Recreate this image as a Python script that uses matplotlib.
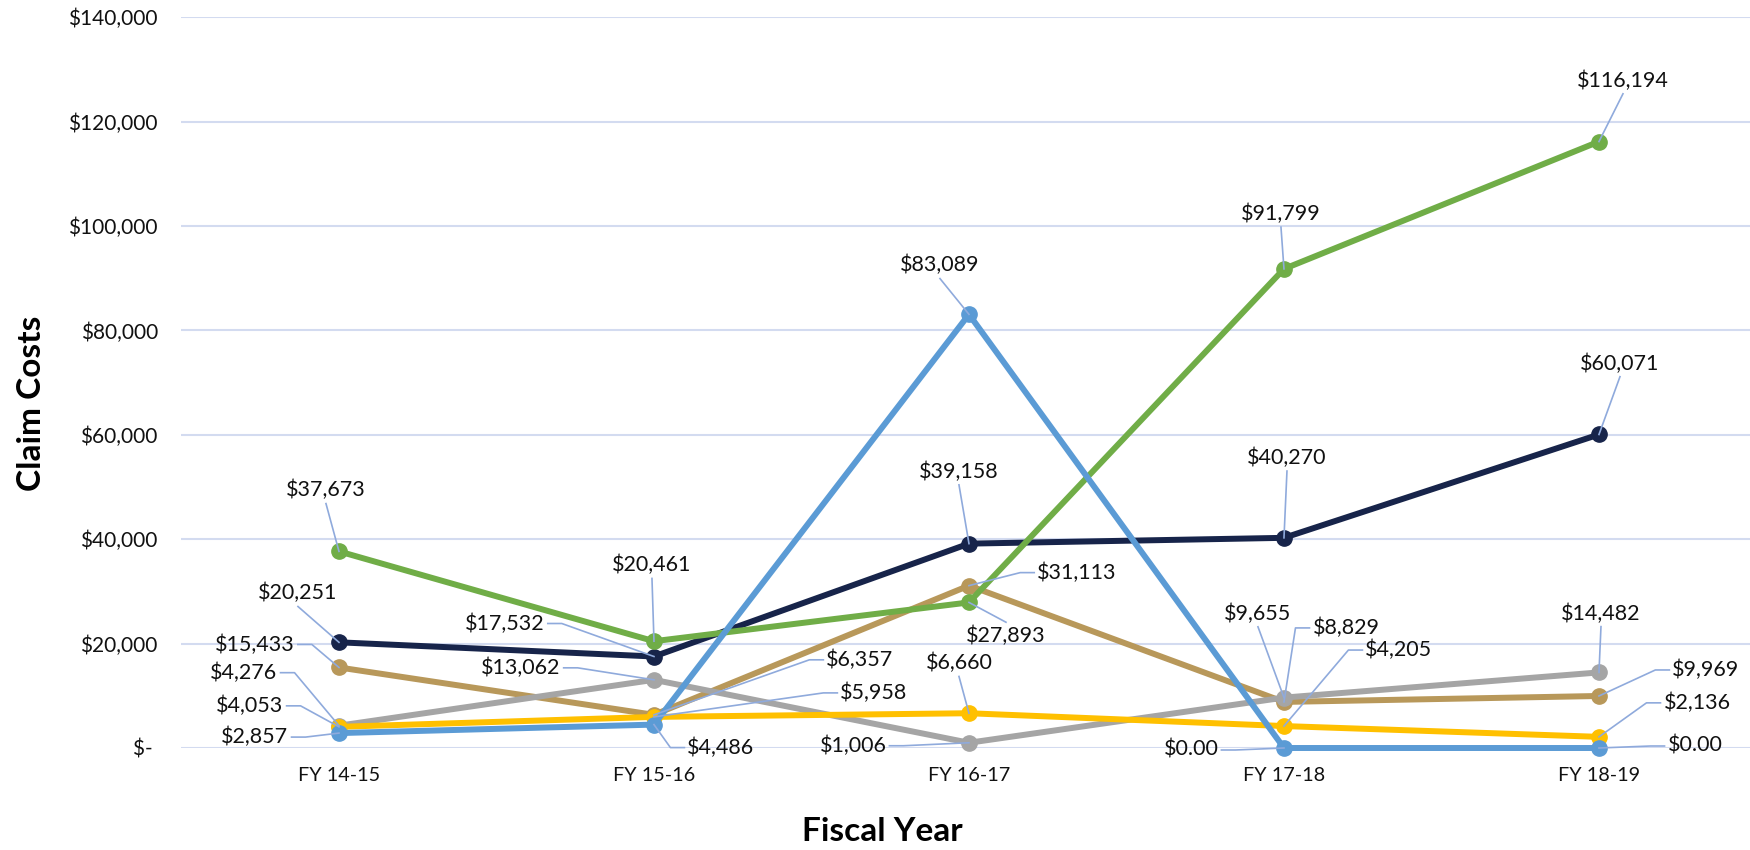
import matplotlib
matplotlib.use('Agg')
import matplotlib.pyplot as plt
from matplotlib.lines import Line2D
from matplotlib.transforms import IdentityTransform
from matplotlib.ticker import FuncFormatter

plt.rcParams['font.family'] = ['Lato', 'DejaVu Sans']

fiscal_years = ['FY 14-15', 'FY 15-16', 'FY 16-17', 'FY 17-18', 'FY 18-19']
navy_costs = [20251, 17532, 39158, 40270, 60071]
tan_costs = [15433, 6357, 31113, 8829, 9969]
gray_costs = [4276, 13062, 1006, 9655, 14482]
green_costs = [37673, 20461, 27893, 91799, 116194]
yellow_costs = [4053, 5958, 6660, 4205, 2136]
blue_costs = [2857, 4486, 83089, 0, 0]

# drawing order, colour and label offsets (pixels, y up)
series = [
    (navy_costs, '#17244a', [(-41, 49), (-149, 33), (-10, 72), (3, 80), (21, 71)]),
    (tan_costs, '#b8985a', [(-84, 23), (206, 55), (108, 13), (62, 74), (107, 26)]),
    (gray_costs, '#a5a5a5', [(-95, 53), (-133, 12), (-116, -3), (-26, 84), (2, 59)]),
    (green_costs, '#70ad47', [(-13, 61), (-2, 76), (37, -33), (-3, 55), (24, 61)]),
    (yellow_costs, '#ffc000', [(-89, 21), (220, 24), (-10, 50), (115, 76), (98, 34)]),
    (blue_costs, '#5b9bd5', [(-84, -4), (67, -23), (-29, 49), (-93, -2), (96, 2)]),
]

leader = '#8faadc'


def money(v):
    return '$0.00' if v == 0 else '${:,.0f}'.format(v)


fig = plt.figure(figsize=(17.5, 8.5), dpi=100)
ax = fig.add_axes([0.1037, 0.12, 0.9, 0.8596])

x = list(range(len(fiscal_years)))
labels = []
for z, (vals, col, offs) in enumerate(series):
    ax.plot(x, vals, color=col, lw=4.3, marker='o', ms=11, solid_capstyle='round',
            zorder=3 + z, clip_on=False)
    for xi, v, (dx, dy) in zip(x, vals, offs):
        t = ax.annotate(money(v), (xi, v), xytext=(dx, dy), textcoords='offset pixels',
                        ha='center', va='center', fontsize=15.5, color='#111111',
                        zorder=20, annotation_clip=False)
        labels.append((t, xi, v, dx, dy))

ax.set_xlim(-0.5, 4.5)
ax.set_ylim(0, 140000)
ax.set_yticks(range(0, 140001, 20000))
ax.yaxis.set_major_formatter(FuncFormatter(lambda v, p: '$- ' if v == 0 else '${:,.0f}'.format(v)))
ax.set_xticks(x)
ax.set_xticklabels(fiscal_years)
ax.tick_params(axis='y', length=0, pad=17, labelsize=15, labelcolor='#111111')
ax.tick_params(axis='x', length=0, pad=14, labelsize=14.3, labelcolor='#111111')
ax.grid(axis='y', color='#d3dbf0', lw=1.5, zorder=0)
ax.set_axisbelow(True)
for s in ax.spines.values():
    s.set_visible(False)

fig.text(0.018, 0.525, 'Claim Costs', rotation=90, ha='center', va='center',
         fontsize=24, fontweight='bold')
fig.text(0.504, 0.022, 'Fiscal Year', ha='center', va='center',
         fontsize=24, fontweight='bold')

# leader lines, Excel style: short horizontal stub when the label sits beside the point
fig.canvas.draw()
rend = fig.canvas.get_renderer()
for t, xi, v, dx, dy in labels:
    bb = t.get_window_extent(rend)
    px, py = ax.transData.transform((xi, v))
    ym = (bb.y0 + bb.y1) / 2
    if px > bb.x1 + 5:
        xs = [bb.x1 + 3, bb.x1 + 17, px]
        ys = [ym, ym, py]
    elif px < bb.x0 - 5:
        xs = [bb.x0 - 3, bb.x0 - 17, px]
        ys = [ym, ym, py]
    else:
        cx = (bb.x0 + bb.x1) / 2
        xs = [cx, px]
        ys = [bb.y0 - 3 if dy > 0 else bb.y1 + 3, py]
    fig.add_artist(Line2D(xs, ys, color=leader, lw=1.2, transform=IdentityTransform(),
                          zorder=15))

fig.savefig('out.png', dpi=100)
